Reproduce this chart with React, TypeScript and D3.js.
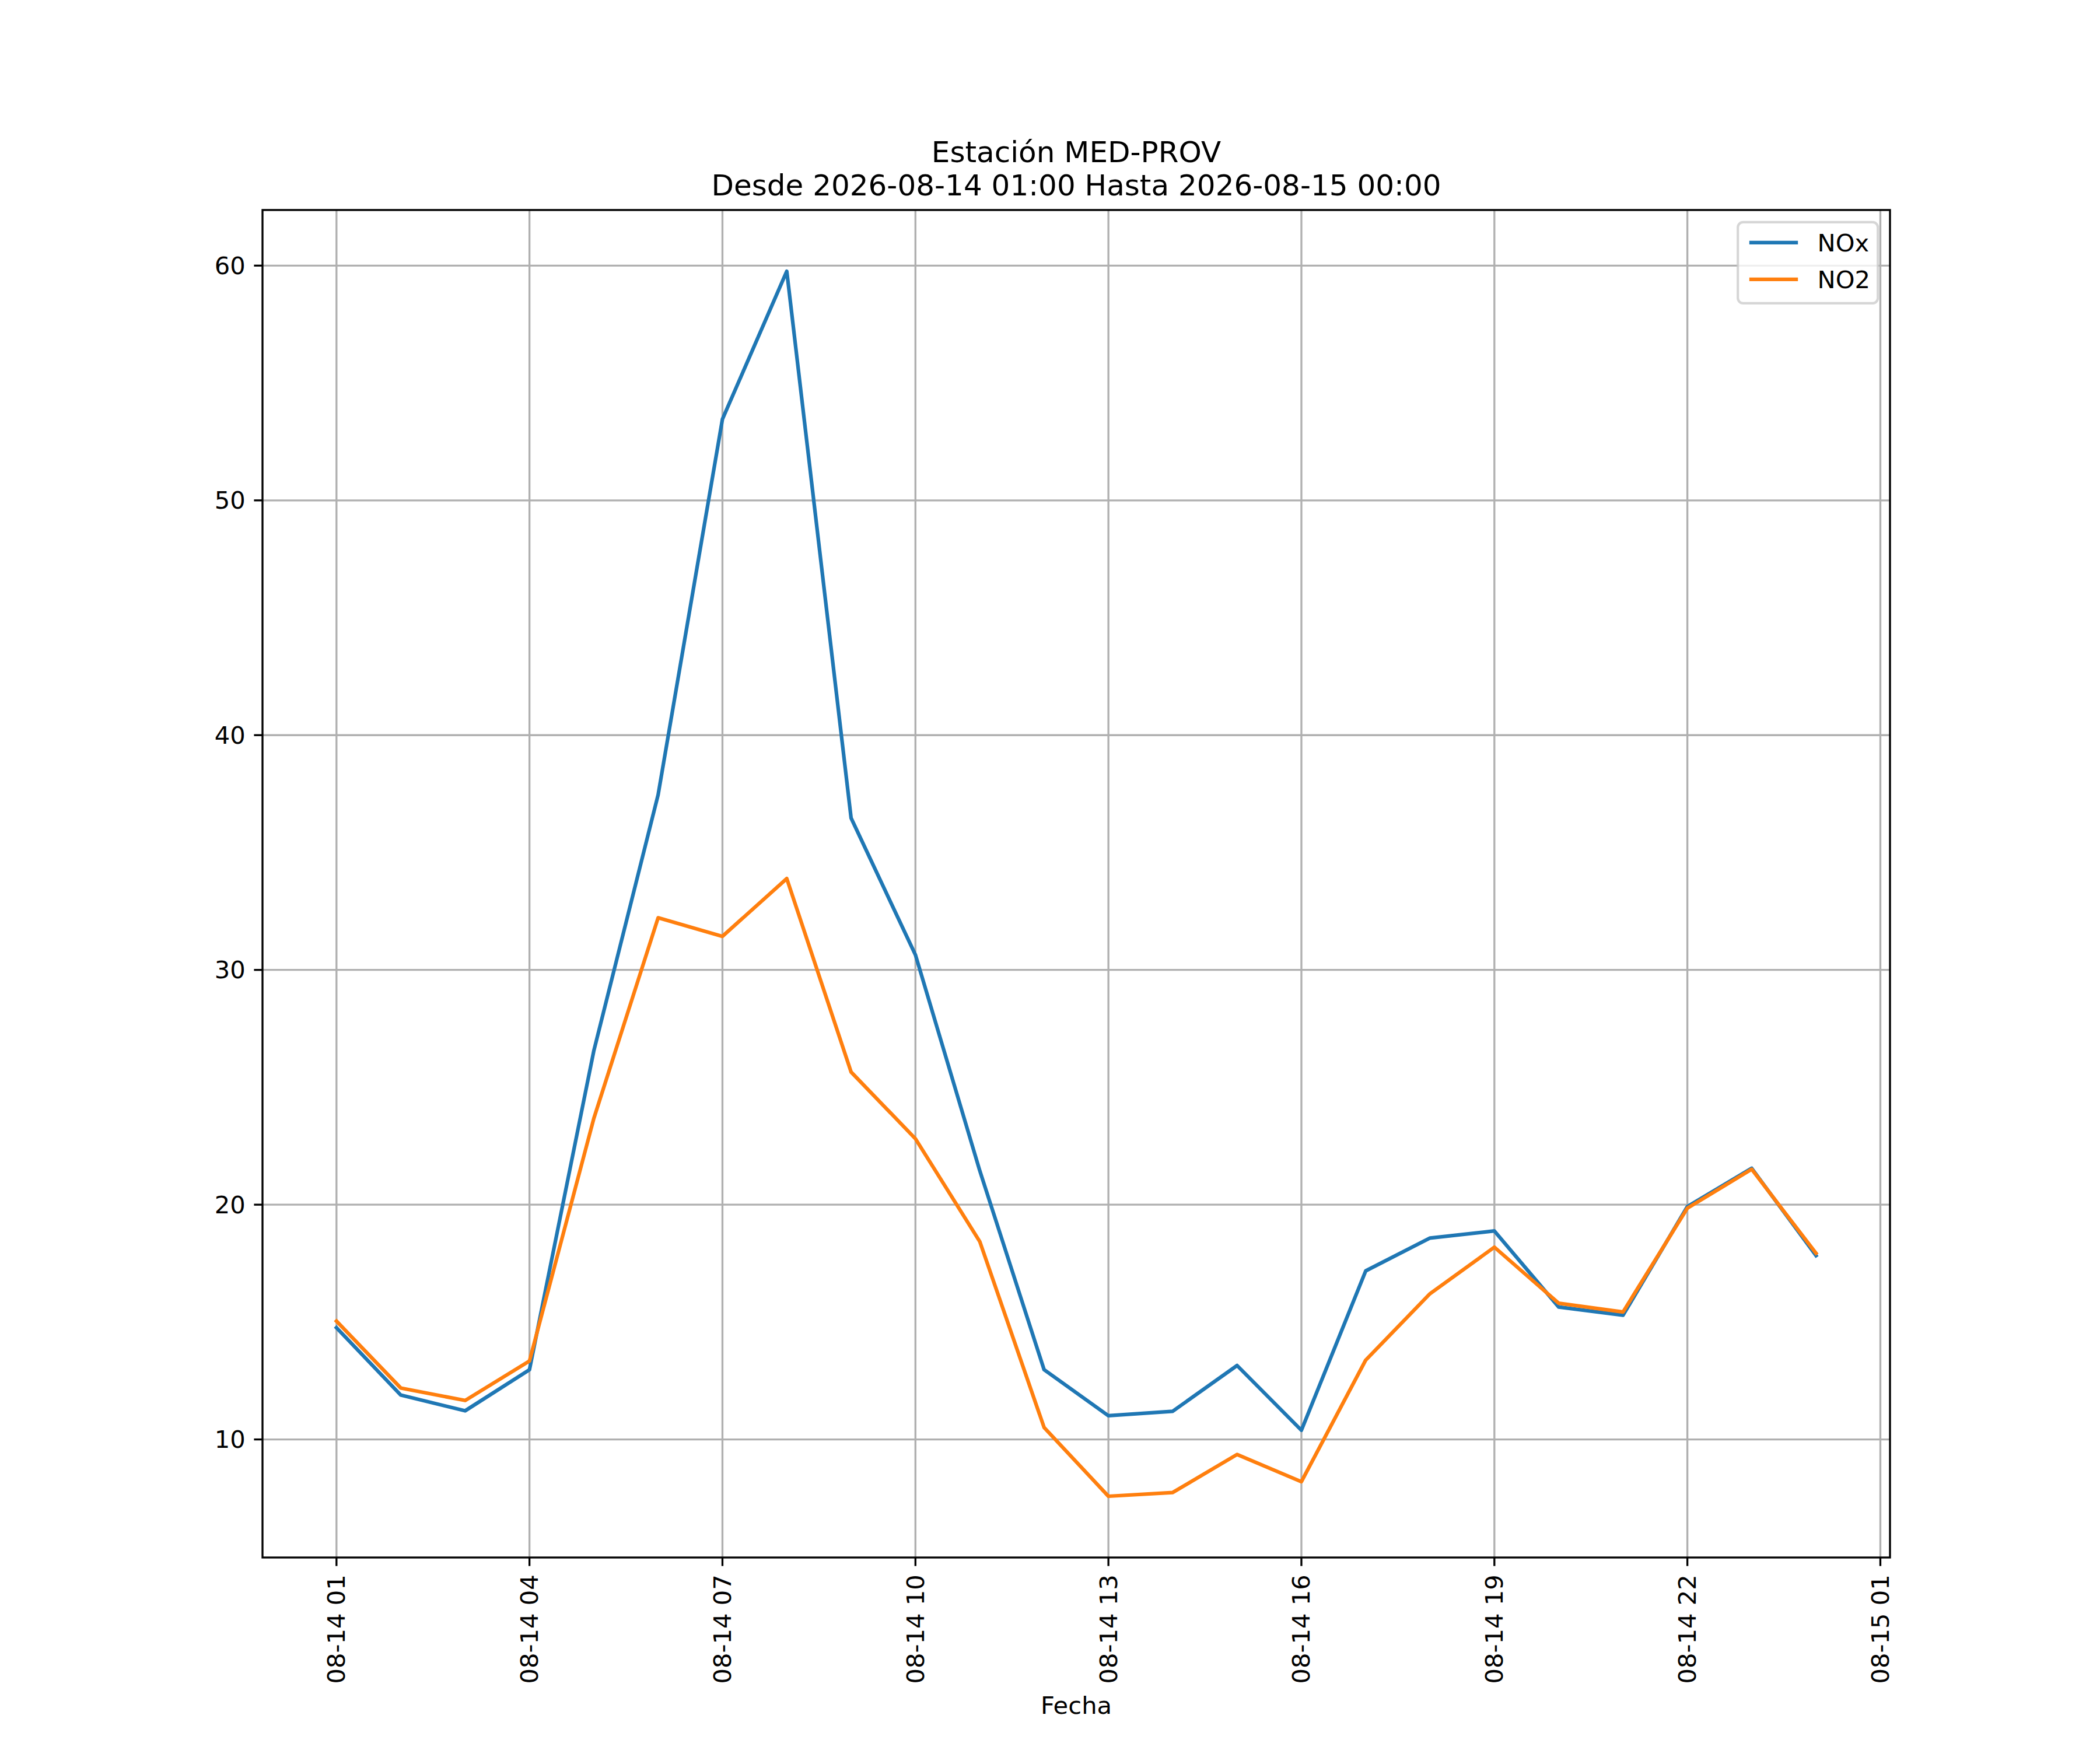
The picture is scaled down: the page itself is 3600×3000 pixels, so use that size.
import React from 'react';
import * as d3 from 'd3';

const timeLabels: string[] = [
  '2026-08-14T01:00', '2026-08-14T02:00', '2026-08-14T03:00', '2026-08-14T04:00',
  '2026-08-14T05:00', '2026-08-14T06:00', '2026-08-14T07:00', '2026-08-14T08:00',
  '2026-08-14T09:00', '2026-08-14T10:00', '2026-08-14T11:00', '2026-08-14T12:00',
  '2026-08-14T13:00', '2026-08-14T14:00', '2026-08-14T15:00', '2026-08-14T16:00',
  '2026-08-14T17:00', '2026-08-14T18:00', '2026-08-14T19:00', '2026-08-14T20:00',
  '2026-08-14T21:00', '2026-08-14T22:00', '2026-08-14T23:00', '2026-08-15T00:00',
];

const noxValues: number[] = [
  14.76, 11.89, 11.22, 12.97, 26.55, 37.46, 53.46, 59.76, 36.47, 30.64, 21.45, 12.97,
  11.01, 11.2, 13.15, 10.39, 17.18, 18.58, 18.88, 15.64, 15.29, 19.92, 21.55, 17.83,
];

const no2Values: number[] = [
  15.04, 12.19, 11.66, 13.34, 23.67, 32.22, 31.43, 33.89, 25.65, 22.81, 18.43, 10.51,
  7.58, 7.74, 9.36, 8.2, 13.38, 16.21, 18.19, 15.8, 15.43, 19.85, 21.51, 17.93,
];

const seriesNames: string[] = ['NOx', 'NO2'];
const seriesColors: string[] = ['#1f77b4', '#ff7f0e'];

const yTickValues: number[] = [10, 20, 30, 40, 50, 60];
const xTickLabels: string[] = [
  '2026-08-14T01:00', '2026-08-14T04:00', '2026-08-14T07:00', '2026-08-14T10:00',
  '2026-08-14T13:00', '2026-08-14T16:00', '2026-08-14T19:00', '2026-08-14T22:00',
  '2026-08-15T01:00',
];

const titleLines: string[] = [
  'Estación MED-PROV',
  'Desde 2026-08-14 01:00 Hasta 2026-08-15 00:00',
];
const xAxisLabel = 'Fecha';

const W = 3600;
const H = 3000;
const L = 450;
const R = 3240;
const T = 360;
const B = 2670;
const PT = 300 / 72;
const FS = 10 * PT;
const FONT = 'DejaVu Sans, sans-serif';

export default function App() {
  const parse = d3.utcParse('%Y-%m-%dT%H:%M');
  const dates = timeLabels.map((s) => parse(s) as Date);
  const xt = dates.map((d) => d.getTime());
  const [x0, x1] = d3.extent(xt) as [number, number];
  const xm = (x1 - x0) * 0.05;
  const x = d3.scaleUtc().domain([new Date(x0 - xm), new Date(x1 + xm)]).range([L, R]);

  const allVals = [...noxValues, ...no2Values];
  const [y0, y1] = d3.extent(allVals) as [number, number];
  const ym = (y1 - y0) * 0.05;
  const y = d3.scaleLinear().domain([y0 - ym, y1 + ym]).range([B, T]);

  const fmt = d3.utcFormat('%m-%d %H');
  const xTicks = xTickLabels.map((s) => parse(s) as Date);

  const line = d3
    .line<number>()
    .x((_, i) => x(dates[i]))
    .y((v) => y(v));

  const series = [noxValues, no2Values];

  const tickLen = 3.5 * PT;
  const tickPad = 3.5 * PT;
  const lw = 0.8 * PT;

  // legend
  const legW = 240;
  const legH = 139;
  const legX = R - 0.5 * FS - legW;
  const legY = T + 0.5 * FS;

  return (
    <svg
      width={W}
      height={H}
      viewBox={`0 0 ${W} ${H}`}
      style={{ position: 'absolute', left: 0, top: 0, background: '#fff' }}
      fontFamily={FONT}
    >
      <rect x={0} y={0} width={W} height={H} fill="#fff" />
      <defs>
        <clipPath id="plotclip">
          <rect x={L} y={T} width={R - L} height={B - T} />
        </clipPath>
      </defs>
      {/* grid */}
      <g stroke="#b0b0b0" strokeWidth={lw}>
        {xTicks.map((d, i) => (
          <line key={'gx' + i} x1={x(d)} x2={x(d)} y1={T} y2={B} />
        ))}
        {yTickValues.map((v, i) => (
          <line key={'gy' + i} x1={L} x2={R} y1={y(v)} y2={y(v)} />
        ))}
      </g>
      {/* data lines */}
      <g clipPath="url(#plotclip)">
        {series.map((vals, i) => (
          <path
            key={'s' + i}
            d={line(vals) || ''}
            fill="none"
            stroke={seriesColors[i]}
            strokeWidth={1.5 * PT}
            strokeLinejoin="round"
            strokeLinecap="square"
          />
        ))}
      </g>
      {/* spines */}
      <rect x={L} y={T} width={R - L} height={B - T} fill="none" stroke="#000" strokeWidth={lw} />
      {/* y ticks */}
      <g>
        {yTickValues.map((v, i) => (
          <g key={'yt' + i}>
            <line x1={L - tickLen} x2={L} y1={y(v)} y2={y(v)} stroke="#000" strokeWidth={lw} />
            <text
              x={L - tickLen - tickPad}
              y={y(v)}
              textAnchor="end"
              dominantBaseline="central"
              fontSize={FS}
              fill="#000"
            >
              {String(v)}
            </text>
          </g>
        ))}
      </g>
      {/* x ticks */}
      <g>
        {xTicks.map((d, i) => (
          <g key={'xt' + i}>
            <line x1={x(d)} x2={x(d)} y1={B} y2={B + tickLen} stroke="#000" strokeWidth={lw} />
            <text
              transform={`translate(${x(d)},${B + tickLen + tickPad}) rotate(-90)`}
              textAnchor="end"
              dominantBaseline="central"
              fontSize={FS}
              fill="#000"
            >
              {fmt(d)}
            </text>
          </g>
        ))}
      </g>
      {/* x label */}
      <text x={(L + R) / 2} y={2938} textAnchor="middle" fontSize={FS} fill="#000">
        {xAxisLabel}
      </text>
      {/* title */}
      <text x={(L + R) / 2} y={278} textAnchor="middle" fontSize={12 * PT} fill="#000">
        {titleLines[0]}
      </text>
      <text x={(L + R) / 2} y={335} textAnchor="middle" fontSize={12 * PT} fill="#000">
        {titleLines[1]}
      </text>
      {/* legend */}
      <g>
        <rect
          x={legX}
          y={legY}
          width={legW}
          height={legH}
          rx={9}
          ry={9}
          fill="#fff"
          fillOpacity={0.8}
          stroke="#cccccc"
          strokeOpacity={0.8}
          strokeWidth={1 * PT}
        />
        {seriesNames.map((name, i) => {
          const cy = legY + 35 + i * 63;
          return (
            <g key={'lg' + i}>
              <line
                x1={legX + 0.4 * FS + 3}
                x2={legX + 0.4 * FS + 3 + 2 * FS}
                y1={cy}
                y2={cy}
                stroke={seriesColors[i]}
                strokeWidth={1.5 * PT}
                strokeLinecap="butt"
              />
              <text
                x={legX + 0.4 * FS + 3 + 2.8 * FS}
                y={cy + 15}
                fontSize={FS}
                fill="#000"
              >
                {name}
              </text>
            </g>
          );
        })}
      </g>
    </svg>
  );
}
